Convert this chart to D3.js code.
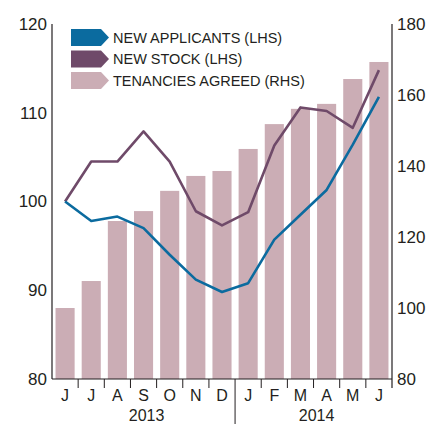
<!DOCTYPE html>
<html>
<head>
<meta charset="utf-8">
<script src="https://cdn.jsdelivr.net/npm/d3@7"></script>
<style>
  body { margin: 0; background: #fff; }
  text { font-family: "Liberation Sans", Arial, sans-serif; fill: #231f20; }
</style>
</head>
<body>
<div id="chart"></div>
<script>
// months from Jun 2013 to Jun 2014
const months = ["2013-06","2013-07","2013-08","2013-09","2013-10","2013-11","2013-12",
                "2014-01","2014-02","2014-03","2014-04","2014-05","2014-06"]
const monthLabels = ["J","J","A","S","O","N","D","J","F","M","A","M","J"]
const years = ["2013", "2014"]

// lines use the left scale, bars the right one
const newApplicants = [100, 97.8, 98.3, 97.0, 94.0, 91.2, 89.8, 90.8, 95.7, 98.5, 101.3, 106.4, 111.8]
const newStock = [100, 104.5, 104.5, 107.9, 104.5, 98.9, 97.3, 98.8, 106.3, 110.6, 110.2, 108.3, 114.8]
const tenancies = [100, 107.6, 124.5, 127.3, 133, 137.2, 138.6, 144.8, 151.8, 156.1, 157.5, 164.5, 169.3]

const leftTicks = [80, 90, 100, 110, 120]
const rightTicks = [80, 100, 120, 140, 160, 180]

const seriesNames = ["NEW APPLICANTS (LHS)", "NEW STOCK (LHS)", "TENANCIES AGREED (RHS)"]
const colors = ["#0b6b9f", "#6f4a69", "#cbadb5"]

const W = 443, H = 424
const plot = {left: 52, right: 392, top: 24, bottom: 379}

const svg = d3.select("#chart").append("svg")
  .attr("width", W)
  .attr("height", H)

const x = d3.scaleBand()
  .domain(months)
  .range([plot.left, plot.right])
  .paddingInner(0.27)
  .paddingOuter(0.135)

const yL = d3.scaleLinear().domain([80, 120]).range([plot.bottom, plot.top])
const yR = d3.scaleLinear().domain([80, 180]).range([plot.bottom, plot.top])

// bars
svg.append("g")
  .selectAll("rect")
  .data(tenancies)
  .join("rect")
  .attr("x", (d, i) => x(months[i]))
  .attr("width", x.bandwidth())
  .attr("y", d => yR(d))
  .attr("height", d => yR(80) - yR(d))
  .attr("fill", colors[2])

// lines
const line = d3.line()
  .x((d, i) => x(months[i]) + x.bandwidth() / 2)
  .y(d => yL(d))

;[newStock, newApplicants].forEach((s, k) => {
  svg.append("path")
    .datum(s)
    .attr("d", line)
    .attr("fill", "none")
    .attr("stroke", k === 0 ? colors[1] : colors[0])
    .attr("stroke-width", 2.6)
    .attr("stroke-linejoin", "round")
})

// left axis
svg.append("line")
  .attr("x1", plot.left).attr("x2", plot.left)
  .attr("y1", plot.top).attr("y2", plot.bottom)
  .attr("stroke", "#231f20").attr("stroke-width", 1.2)
svg.append("g")
  .selectAll("text")
  .data(leftTicks)
  .join("text")
  .attr("x", plot.left - 5)
  .attr("y", d => yL(d))
  .attr("dy", "0.35em")
  .attr("text-anchor", "end")
  .style("font-size", "17px")
  .text(d => d)

// right axis
svg.append("line")
  .attr("x1", plot.right).attr("x2", plot.right)
  .attr("y1", plot.top).attr("y2", plot.bottom + 9)
  .attr("stroke", "#231f20").attr("stroke-width", 1.2)
svg.append("g")
  .selectAll("text")
  .data(rightTicks)
  .join("text")
  .attr("x", plot.right + 5)
  .attr("y", d => yR(d))
  .attr("dy", "0.35em")
  .attr("text-anchor", "start")
  .style("font-size", "17px")
  .text(d => d)

// bottom axis
svg.append("line")
  .attr("x1", plot.left).attr("x2", plot.right)
  .attr("y1", plot.bottom).attr("y2", plot.bottom)
  .attr("stroke", "#231f20").attr("stroke-width", 1.2)

const step = x.step()
const boundary = d => x(d) + x.bandwidth() + step * x.paddingInner() / 2
svg.append("g")
  .selectAll("line")
  .data(months.slice(0, -1))
  .join("line")
  .attr("x1", boundary)
  .attr("x2", boundary)
  .attr("y1", plot.bottom)
  .attr("y2", d => d === "2013-12" ? H : plot.bottom + 9)
  .attr("stroke", "#231f20").attr("stroke-width", 1)

svg.append("g")
  .selectAll("text")
  .data(monthLabels)
  .join("text")
  .attr("x", (d, i) => x(months[i]) + x.bandwidth() / 2)
  .attr("y", 401)
  .attr("text-anchor", "middle")
  .style("font-size", "16px")
  .text(d => d)

// year labels, centred under their months
const yearCentre = yr => {
  const ms = months.filter(m => m.startsWith(yr))
  const a = x(ms[0]) - step * x.paddingInner() / 2
  const b = boundary(ms[ms.length - 1])
  return (a + b) / 2
}
svg.append("g")
  .selectAll("text")
  .data(years)
  .join("text")
  .attr("x", d => yearCentre(d) + 3)
  .attr("y", 420.5)
  .attr("text-anchor", "middle")
  .style("font-size", "16px")
  .text(d => d)

// legend
const legend = svg.append("g").attr("transform", "translate(71, 29)")
const rowH = 21.5
seriesNames.forEach((name, i) => {
  const g = legend.append("g").attr("transform", `translate(0, ${i * rowH})`)
  g.append("path")
    .attr("d", "M0,0 L30,0 L38,8.5 L30,17 L0,17 Z")
    .attr("fill", colors[i])
  g.append("text")
    .attr("x", 42)
    .attr("y", 8.5)
    .attr("dy", "0.36em")
    .style("font-size", "14.5px")
    .text(name)
})
</script>
</body>
</html>
